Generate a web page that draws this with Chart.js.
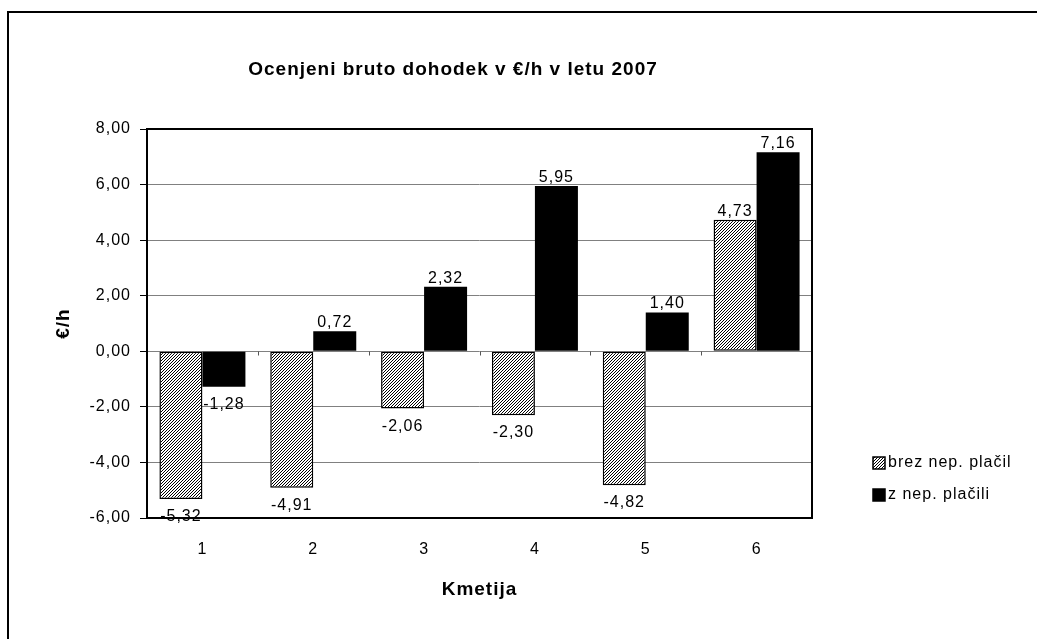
<!DOCTYPE html>
<html lang="sl">
<head>
<meta charset="UTF-8" />
<title>Ocenjeni bruto dohodek v €/h v letu 2007</title>
<script src="https://cdn.jsdelivr.net/npm/chart.js@4"></script>
<style>
  html, body { margin: 0; padding: 0; background: #fff; }
  canvas { display: block; }
</style>
</head>
<body>
<canvas id="chart" width="1037" height="639"></canvas>
<script>
  const categories = ['1', '2', '3', '4', '5', '6']
  const brezNepPlacil = [-5.32, -4.91, -2.06, -2.30, -4.82, 4.73]
  const zNepPlacili = [-1.28, 0.72, 2.32, 5.95, 1.40, 7.16]
  const seriesNames = ['brez nep. plačil', 'z nep. plačili']
  const yMin = -6
  const yMax = 8
  const yStep = 2
  const chartTitle = 'Ocenjeni bruto dohodek v €/h v letu 2007'
  const xTitle = 'Kmetija'
  const yTitle = '€/h'

  const FONT = '"Liberation Sans", Arial, sans-serif'
  const fmt = v => v.toFixed(2).replace('.', ',')

  // diagonal hatch like the old Excel fill
  function hatch() {
    const p = document.createElement('canvas')
    p.width = 3
    p.height = 3
    const c = p.getContext('2d')
    c.fillStyle = '#fff'
    c.fillRect(0, 0, 3, 3)
    c.strokeStyle = '#000'
    c.lineWidth = 1
    c.beginPath()
    c.moveTo(-1, 4); c.lineTo(4, -1)
    c.moveTo(-1, 1); c.lineTo(1, -1)
    c.moveTo(2, 4); c.lineTo(4, 2)
    c.stroke()
    return document.getElementById('chart').getContext('2d').createPattern(p, 'repeat')
  }
  const hatchFill = hatch()

  // the Excel text is a bit wider than Arial, spread it a little
  const spacing = {
    id: 'spacing',
    beforeLayout(chart) { chart.ctx.letterSpacing = '1px' },
    beforeDraw(chart) { chart.ctx.letterSpacing = '1px' },
  }

  const decorations = {
    id: 'decorations',
    afterDatasetsDraw(chart) {
      const ctx = chart.ctx
      const { left, right, top, bottom } = chart.chartArea
      const x = chart.scales.x
      const y = chart.scales.y
      ctx.save()

      // small ticks on the zero line between categories
      const y0 = Math.round(y.getPixelForValue(0)) + 0.5
      ctx.strokeStyle = '#555'
      ctx.lineWidth = 1
      ctx.beginPath()
      for (let i = 0; i < categories.length - 1; i++) {
        const px = Math.round(x.getPixelForValue(i + 0.5)) + 0.5
        ctx.moveTo(px, y0)
        ctx.lineTo(px, y0 + 4)
      }
      ctx.stroke()

      // plot frame
      ctx.strokeStyle = '#000'
      ctx.lineWidth = 2
      ctx.strokeRect(left, top, right - left, bottom - top)

      // value labels
      ctx.fillStyle = '#000'
      ctx.font = '16px ' + FONT
      ctx.textAlign = 'center'
      ctx.textBaseline = 'alphabetic'
      chart.data.datasets.forEach((ds, di) => {
        chart.getDatasetMeta(di).data.forEach((bar, i) => {
          const v = ds.data[i]
          const ty = v >= 0 ? bar.y - 4 : bar.y + 22
          ctx.fillText(fmt(v), bar.x, ty)
        })
      })

      // outer frame (only top and left are inside the picture)
      ctx.lineWidth = 2
      ctx.beginPath()
      ctx.moveTo(8, chart.height)
      ctx.lineTo(8, 12)
      ctx.lineTo(chart.width, 12)
      ctx.stroke()

      // title
      ctx.font = 'bold 19px ' + FONT
      ctx.textBaseline = 'middle'
      ctx.fillText(chartTitle, 453, 70)

      // legend
      const fills = [hatchFill, '#000']
      const rows = [463, 495]
      ctx.font = '16px ' + FONT
      ctx.textAlign = 'left'
      seriesNames.forEach((name, i) => {
        ctx.fillStyle = fills[i]
        ctx.fillRect(873, rows[i] - 6, 12, 12)
        ctx.strokeStyle = '#000'
        ctx.lineWidth = 1.5
        ctx.strokeRect(873, rows[i] - 6, 12, 12)
        ctx.fillStyle = '#000'
        ctx.fillText(name, 888, rows[i])
      })
      ctx.restore()
    }
  }

  new Chart(document.getElementById('chart'), {
    type: 'bar',
    data: {
      labels: categories,
      datasets: [
        {
          label: seriesNames[0],
          data: brezNepPlacil,
          backgroundColor: hatchFill,
          borderColor: '#000',
          borderWidth: 1.5,
          borderSkipped: false,
        },
        {
          label: seriesNames[1],
          data: zNepPlacili,
          backgroundColor: '#000',
          borderWidth: 0,
        },
      ],
    },
    options: {
      responsive: false,
      animation: false,
      devicePixelRatio: 1,
      layout: { padding: { top: 129, right: 225, bottom: 0, left: 0 } },
      datasets: {
        bar: { categoryPercentage: 0.776, barPercentage: 1 },
      },
      plugins: {
        legend: { display: false },
        tooltip: { enabled: false },
      },
      scales: {
        x: {
          grid: { display: false },
          border: { display: false },
          ticks: { color: '#000', padding: 14, font: { family: FONT, size: 16 } },
          title: {
            display: true,
            text: xTitle,
            color: '#000',
            font: { family: FONT, size: 19, weight: 'bold' },
            padding: { top: 0, bottom: 38 },
          },
          afterFit(scale) { scale.height = 121 },
        },
        y: {
          min: yMin,
          max: yMax,
          grid: {
            color: '#808080',
            lineWidth: 1,
            drawTicks: true,
            tickLength: 7,
            tickColor: '#000',
          },
          border: { display: false },
          ticks: {
            stepSize: yStep,
            color: '#000',
            padding: 9,
            font: { family: FONT, size: 16 },
            callback: v => fmt(v),
          },
          title: {
            display: true,
            text: yTitle,
            color: '#000',
            font: { family: FONT, size: 19, weight: 'bold' },
            padding: { top: 52, bottom: 0 },
          },
          afterFit(scale) { scale.width = 147 },
        },
      },
    },
    plugins: [spacing, decorations],
  })
</script>
</body>
</html>
